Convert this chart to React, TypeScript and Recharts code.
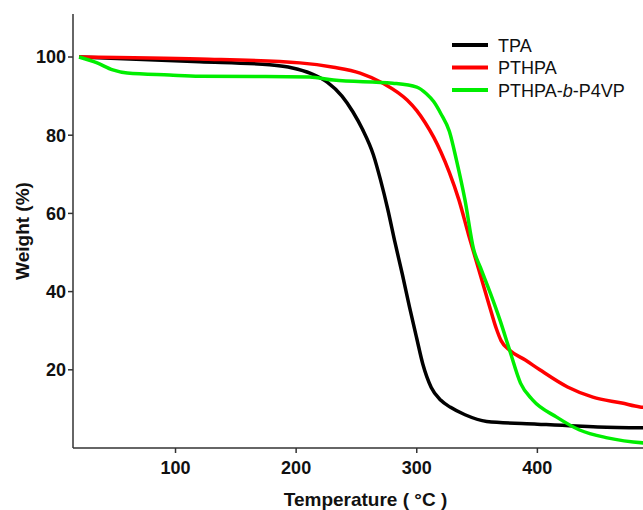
import { Legend, Line, LineChart, XAxis, YAxis } from 'recharts';

const xTicks = [100, 200, 300, 400];
const yTicks = [20, 40, 60, 80, 100];

const tpaTemp = [20, 120, 178, 197, 212, 226, 238, 247, 255, 264, 270, 276, 282, 288, 294, 300, 305, 312, 320, 328, 340, 358, 400, 450, 500];
const tpaWeight = [100, 98.8, 98, 97.2, 95.8, 93.5, 90, 86, 81.5, 75, 68.5, 61, 52.5, 44.5, 36, 28, 21.5, 15.5, 12.2, 10.4, 8.5, 6.8, 6.1, 5.4, 5.1];

const pthpaTemp = [20, 120, 203, 231, 253, 272, 292, 300, 307, 314, 320, 327, 335, 343, 352, 360, 366, 370, 377, 390, 402, 425, 446, 470, 485, 500];
const pthpaWeight = [100, 99.5, 98.5, 97.4, 95.9, 93.3, 89, 86.3, 83.2, 79.5, 75.7, 70.5, 63.4, 54.5, 45, 36.6, 30.5, 27.4, 25, 22.5, 20, 15.6, 13, 11.5, 10.5, 10.2];

const blockTemp = [20, 35, 48, 60, 95, 120, 211, 231, 280, 300, 308, 314, 320, 327, 333, 340, 347, 353, 361, 369, 377, 386, 396, 416, 435, 458, 488, 500];
const blockWeight = [100, 98.5, 96.7, 95.9, 95.4, 95.1, 94.9, 94.1, 93.3, 92.3, 90.6, 88.6, 85.5, 81, 73.5, 63.4, 51, 46, 39.6, 32.7, 25, 16.6, 12.3, 7.9, 4.6, 2.6, 1.3, 1.1];

const toRows = (temps: number[], weights: number[]) => temps.map((t, i) => ({ t, w: weights[i] }));

const series = [
	{ name: 'TPA', color: '#000000', data: toRows(tpaTemp, tpaWeight) },
	{ name: 'PTHPA', color: '#ff0000', data: toRows(pthpaTemp, pthpaWeight) },
	{ name: 'PTHPA-b-P4VP', color: '#00ee00', data: toRows(blockTemp, blockWeight) },
];

const font = '"Liberation Sans", Arial, sans-serif';
const axisColor = '#333';

function LegendBox() {
	return (
		<svg width={200} height={72} style={{ fontFamily: font, fontSize: 18 }}>
			{series.map((s, i) => (
				<g key={s.name} transform={`translate(0, ${i * 22.5 + 12})`}>
					<line x1={0} x2={36} y1={0} y2={0} stroke={s.color} strokeWidth={4} />
					<text x={46} y={6.5} fill="#111">
						{s.name === 'PTHPA-b-P4VP' ? (
							<>
								PTHPA-<tspan fontStyle="italic">b</tspan>-P4VP
							</>
						) : (
							s.name
						)}
					</text>
				</g>
			))}
		</svg>
	);
}

export default function App() {
	return (
		<div style={{ position: 'fixed', left: 0, top: 0, width: 643, height: 510, overflow: 'hidden', background: '#fff' }}>
			<LineChart width={700} height={510} margin={{ top: 14, right: 42, left: 0, bottom: 0 }}>
				<XAxis
					xAxisId="main"
					type="number"
					dataKey="t"
					domain={[15, 500]}
					ticks={xTicks}
					allowDataOverflow
					height={62}
					stroke={axisColor}
					strokeWidth={1.5}
					tickSize={5}
					tick={{ fill: '#111', fontSize: 18, fontWeight: 'bold', fontFamily: font, dy: 6 }}
					label={{ value: 'Temperature ( °C )', position: 'insideBottom', offset: 4, fill: '#111', fontSize: 19, fontWeight: 'bold', fontFamily: font }}
				/>
				<XAxis xAxisId="top" orientation="top" type="number" domain={[15, 500]} height={0} tick={false} tickLine={false} stroke={axisColor} strokeWidth={1.5} />
				<YAxis
					type="number"
					domain={[0, 111]}
					ticks={yTicks}
					allowDataOverflow
					width={73}
					stroke={axisColor}
					strokeWidth={1.5}
					tickSize={5}
					tick={{ fill: '#111', fontSize: 18, fontWeight: 'bold', fontFamily: font }}
					label={{ value: 'Weight (%)', angle: -90, position: 'insideLeft', offset: 22, fill: '#111', fontSize: 19, fontWeight: 'bold', fontFamily: font, style: { textAnchor: 'middle' } }}
				/>
				<Legend
					layout="vertical"
					align="center"
					verticalAlign="middle"
					content={() => <LegendBox />}
					wrapperStyle={{ left: 452, top: 33, width: 200, height: 72 }}
				/>
				{series.map((s) => (
					<Line
						key={s.name}
						xAxisId="main"
						data={s.data}
						dataKey="w"
						name={s.name}
						type="monotone"
						stroke={s.color}
						strokeWidth={3.5}
						dot={false}
						isAnimationActive={false}
					/>
				))}
			</LineChart>
		</div>
	);
}
